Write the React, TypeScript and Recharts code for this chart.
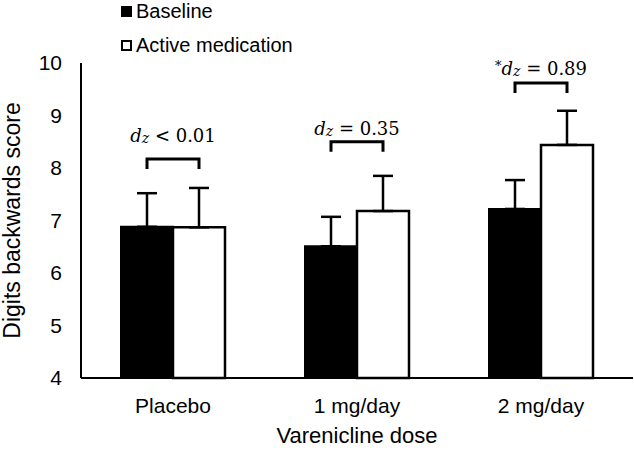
import React from 'react';
import { BarChart, Bar, XAxis, YAxis, ErrorBar, LabelList, Label } from 'recharts';

const categories = ['Placebo', '1 mg/day', '2 mg/day'];
const baseline = [6.88, 6.51, 7.22];
const baselineErr = [0.64, 0.56, 0.55];
const active = [6.87, 7.18, 8.44];
const activeErr = [0.75, 0.67, 0.65];
const yTicks = [4, 5, 6, 7, 8, 9, 10];

const seriesNames = ['Baseline', 'Active medication'];
const seriesFills = ['#000', '#fff'];

// effect size annotations above each pair
const bracketLevel = [8.17, 8.5, 9.62];
const labelLevel = [8.5, 8.63, 9.77];
const effectStar = ['', '', '*'];
const effectOp = ['<', '=', '='];
const effectVal = ['0.01', '0.35', '0.89'];

const data = categories.map((name, i) => ({
  name,
  baseline: baseline[i],
  baselineErr: [0, baselineErr[i]],
  active: active[i],
  activeErr: [0, activeErr[i]],
}));

const AXIS_FONT = 21;

const ChartLegend = () => (
  <div style={{ position: 'absolute', left: 121, top: -6, display: 'flex', flexDirection: 'column' }}>
    {seriesNames.map((name, i) => (
      <div key={name} style={{ display: 'flex', alignItems: 'center', height: 34 }}>
        <span
          style={{
            display: 'inline-block',
            width: 11,
            height: 11,
            boxSizing: 'border-box',
            border: '2px solid #000',
            background: seriesFills[i],
          }}
        />
        <span style={{ marginLeft: 4, fontSize: 20, color: '#000' }}>{name}</span>
      </div>
    ))}
  </div>
);

const EffectBracket = (props: any) => {
  const { index } = props;
  const vb = props.viewBox ?? props;
  const { x, y, width, height } = vb;
  if (x == null || index == null) return null;
  const bottom = y + height;
  const ppu = height / (active[index] - 4);
  const toY = (v: number) => bottom - (v - 4) * ppu;
  const left = x - width / 2;
  const right = x + width / 2;
  const by = toY(bracketLevel[index]);
  const ty = toY(labelLevel[index]);
  const star = effectStar[index];
  return (
    <g>
      <path
        d={`M${left},${by + 10} V${by} H${right} V${by + 10}`}
        fill="none"
        stroke="#000"
        strokeWidth={3}
      />
      <text x={x} y={ty} textAnchor="middle" fontFamily="'DejaVu Serif', serif" fontSize={18} fill="#000">
        {star ? <tspan fontSize={13} dy={-5}>{star}</tspan> : null}
        <tspan fontStyle="italic" dy={star ? 5 : 0}>d</tspan>
        <tspan fontStyle="italic" fontSize={14} dy={1}>z</tspan>
        <tspan dy={-1}>{` ${effectOp[index]} ${effectVal[index]}`}</tspan>
      </text>
    </g>
  );
};

const YLabel = (props: any) => {
  const { viewBox } = props;
  const cx = 12;
  const cy = viewBox.y + viewBox.height / 2;
  return (
    <text
      x={cx}
      y={cy}
      transform={`rotate(-90, ${cx}, ${cy})`}
      textAnchor="middle"
      dominantBaseline="central"
      fontSize={23}
      fill="#000"
    >
      Digits backwards score
    </text>
  );
};

export default function App() {
  return (
    <div
      style={{
        position: 'absolute',
        left: 0,
        top: 0,
        width: 634,
        height: 451,
        background: '#fff',
        fontFamily: "'Liberation Sans', Arial, sans-serif",
      }}
    >
      <BarChart
        width={634}
        height={451}
        data={data}
        margin={{ top: 63, right: 1, left: 0, bottom: 0 }}
        barGap={0}
        barSize={52}
      >
        <XAxis
          dataKey="name"
          axisLine={{ stroke: '#000', strokeWidth: 2 }}
          tickLine={false}
          tickSize={0}
          tickMargin={20}
          tick={{ fill: '#000', fontSize: AXIS_FONT }}
          height={73}
          interval={0}
        >
          <Label value="Varenicline dose" position="insideBottom" offset={8} fill="#000" fontSize={22} />
        </XAxis>
        <YAxis
          domain={[4, 10]}
          ticks={yTicks}
          width={81}
          axisLine={{ stroke: '#000', strokeWidth: 2 }}
          tickLine={false}
          tickSize={0}
          tickMargin={19}
          tick={{ fill: '#000', fontSize: AXIS_FONT }}
        >
          <Label content={<YLabel />} />
        </YAxis>
        <Bar dataKey="baseline" name={seriesNames[0]} fill={seriesFills[0]} stroke="#000" strokeWidth={2} isAnimationActive={false}>
          <ErrorBar dataKey="baselineErr" direction="y" width={10} stroke="#000" strokeWidth={2.5} isAnimationActive={false} />
        </Bar>
        <Bar dataKey="active" name={seriesNames[1]} fill={seriesFills[1]} stroke="#000" strokeWidth={2.5} isAnimationActive={false}>
          <ErrorBar dataKey="activeErr" direction="y" width={10} stroke="#000" strokeWidth={2.5} isAnimationActive={false} />
          <LabelList dataKey="active" content={<EffectBracket />} />
        </Bar>
      </BarChart>
      <ChartLegend />
    </div>
  );
}
